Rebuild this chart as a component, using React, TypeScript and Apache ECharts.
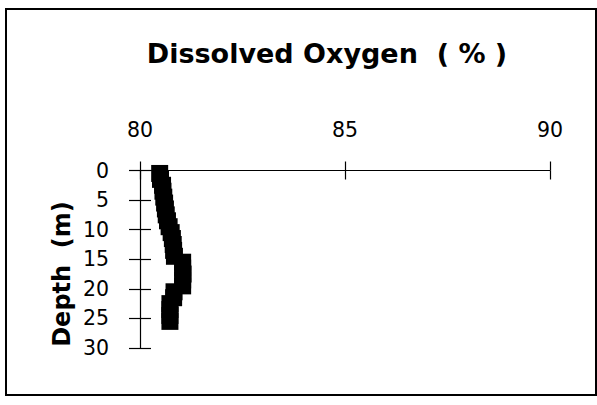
import React, { useEffect, useRef } from "react";
import * as echarts from "echarts";

const depths = [0.5, 1.5, 2.5, 3.5, 4.5, 5.5, 6.5, 7.5, 8.5, 9.5, 10.5, 11.5, 12.5, 13.5, 14.5, 15.5, 16.5, 17.5, 18.5, 19.5, 20.5, 21.5, 22.5, 23.5, 24.5, 25.5];
const oxygen = [80.48, 80.5, 80.55, 80.56, 80.58, 80.6, 80.62, 80.64, 80.67, 80.71, 80.76, 80.79, 80.81, 80.82, 80.84, 81.04, 81.04, 81.05, 81.04, 81.04, 80.83, 80.82, 80.73, 80.73, 80.73, 80.73];
const xTicks = [80, 85, 90];
const yTicks = [0, 5, 10, 15, 20, 25, 30];
const titleText = "Dissolved Oxygen  ( % )";
const yName = "Depth  (m)";

export default function App() {
  const ref = useRef<HTMLDivElement>(null);
  useEffect(() => {
    if (!ref.current) return;
    const chart = echarts.init(ref.current, null, { renderer: "svg" });
    const xMin = xTicks[0];
    const xMax = xTicks[xTicks.length - 1];
    const xInt = xTicks[1] - xTicks[0];
    const yMin = yTicks[0];
    const yMax = yTicks[yTicks.length - 1];
    const yInt = yTicks[1] - yTicks[0];
    const labelFont = { fontFamily: "DejaVu Sans", fontSize: 20.5, color: "#000" };
    chart.setOption({
      animation: false,
      backgroundColor: "#fff",
      grid: { left: 140, right: 47, top: 170.5, bottom: 57 },
      graphic: [
        {
          type: "rect",
          shape: { x: 6, y: 9, width: 590, height: 386 },
          style: { fill: "none", stroke: "#000", lineWidth: 2 },
          z: 0,
        },
        {
          type: "text",
          x: 327,
          y: 53,
          style: {
            text: titleText,
            fontFamily: "DejaVu Sans",
            fontWeight: "bold",
            fontSize: 27,
            fill: "#000",
            textAlign: "center",
            textVerticalAlign: "middle",
          },
        },
        {
          type: "text",
          x: 62,
          y: 274,
          rotation: Math.PI / 2,
          style: {
            text: yName,
            fontFamily: "DejaVu Sans",
            fontWeight: "bold",
            fontSize: 24,
            fill: "#000",
            textAlign: "center",
            textVerticalAlign: "middle",
          },
        },
      ],
      xAxis: [
        {
          type: "value",
          position: "top",
          min: xMin,
          max: xMax,
          interval: xInt,
          axisLine: { show: true, lineStyle: { color: "#000", width: 1.2 } },
          axisTick: { show: true, inside: false, length: 9, lineStyle: { color: "#000", width: 1.2 } },
          axisLabel: { ...labelFont, margin: 30 },
          splitLine: { show: false },
        },
        {
          type: "value",
          position: "top",
          min: xMin,
          max: xMax,
          interval: xInt,
          axisLine: { show: false },
          axisTick: { show: true, inside: true, length: 9, lineStyle: { color: "#000", width: 1.2 } },
          axisLabel: { show: false },
          splitLine: { show: false },
        },
      ],
      yAxis: [
        {
          type: "value",
          position: "left",
          inverse: true,
          min: yMin,
          max: yMax,
          interval: yInt,
          axisLine: { show: true, lineStyle: { color: "#000", width: 1.2 } },
          axisTick: { show: true, inside: false, length: 11, lineStyle: { color: "#000", width: 1.2 } },
          axisLabel: { ...labelFont, margin: 31 },
          splitLine: { show: false },
        },
        {
          type: "value",
          position: "left",
          inverse: true,
          min: yMin,
          max: yMax,
          interval: yInt,
          axisLine: { show: false },
          axisTick: { show: true, inside: true, length: 11, lineStyle: { color: "#000", width: 1.2 } },
          axisLabel: { show: false },
          splitLine: { show: false },
        },
      ],
      series: [
        {
          type: "line",
          xAxisIndex: 0,
          yAxisIndex: 0,
          data: depths.map((d, i) => [oxygen[i], d]),
          symbol: "rect",
          symbolSize: 17,
          showSymbol: true,
          showAllSymbol: true,
          lineStyle: { color: "#000", width: 2 },
          itemStyle: { color: "#000", borderWidth: 0 },
          z: 5,
        },
      ],
    });
    return () => chart.dispose();
  }, []);
  return (
    <div
      ref={ref}
      style={{ position: "fixed", left: 0, top: 0, width: 597, height: 405 }}
    />
  );
}
